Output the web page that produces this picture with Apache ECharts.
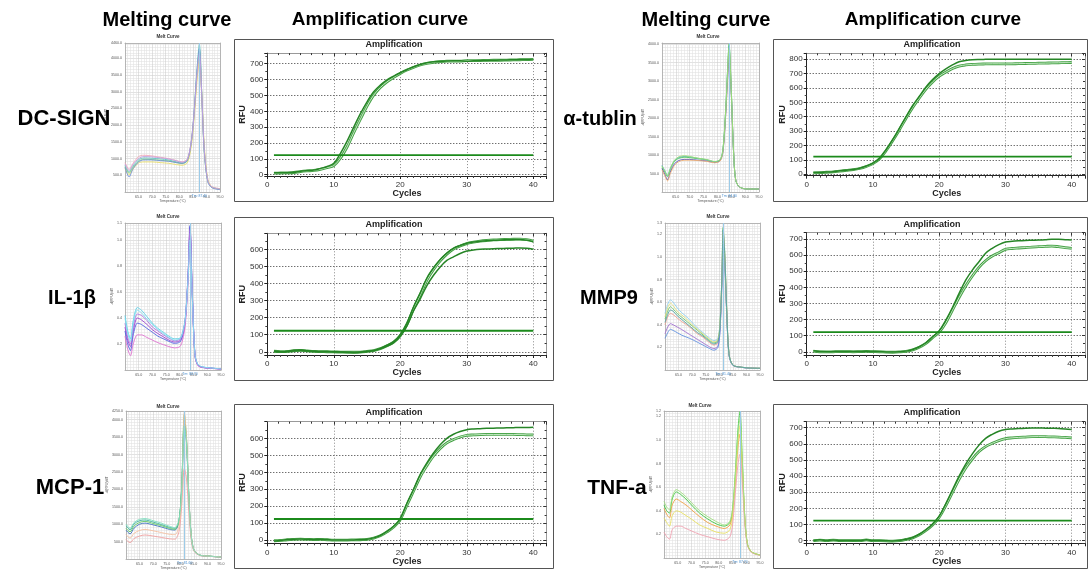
<!DOCTYPE html>
<html><head><meta charset="utf-8">
<script src="https://cdn.jsdelivr.net/npm/echarts@6/dist/echarts.min.js"></script>
<style>html,body{margin:0;padding:0;background:#fff}#c{width:1088px;height:572px}</style>
</head><body><div id="c"></div>
<script>
// ---------------- DATA ----------------
const CYCLES = [1,2,3,4,5,6,7,8,9,10,11,12,13,14,15,16,17,18,19,20,21,22,23,24,25,26,27,28,29,30,31,32,33,34,35,36,37,38,39,40];
const X_TICKS = [0,10,20,30,40];

const DCSIGN_1 = [12,12,13,15,22,26,29,40,52,72,135,212,300,385,460,523,565,598,622,643,662,681,695,706,712,715,717,718,718,716,718,720,721,722,723,724,725,726,727,729];
const DCSIGN_2 = [10,11,12,14,20,24,27,34,45,58,105,175,265,350,433,502,550,586,614,639,660,677,692,702,709,713,716,717,717,720,719,720,721,722,722,723,724,725,726,728];
const DCSIGN_THR = 124;

const IL1B_1 = [4,0,2,9,10,6,3,1,1,0,-1,-3,-4,-2,3,8,20,38,60,100,168,264,345,432,492,540,578,606,622,636,643,648,651,653,655,656,657,658,654,645];
const IL1B_2 = [3,1,2,6,8,5,2,1,0,-1,-2,-3,-3,-2,2,7,18,35,56,95,160,252,333,420,482,532,572,602,620,634,642,648,652,655,657,658,659,660,657,648];
const IL1B_3 = [2,0,1,5,7,4,2,0,0,-1,-2,-3,-4,-3,1,6,17,33,54,92,152,240,310,388,448,497,535,556,576,590,596,600,602,604,605,606,607,608,606,601];
const IL1B_THR = 123;

const MCP1_1 = [-4,-2,4,6,7,6,5,6,4,2,2,1,2,3,6,14,28,52,82,128,218,300,388,456,514,562,600,624,640,651,655,657,659,660,661,662,663,664,664,665];
const MCP1_2 = [-3,-1,3,5,6,5,4,5,3,1,1,1,2,3,5,13,26,49,78,122,207,290,374,439,496,540,573,593,608,618,620,622,623,623,623,623,623,622,621,620];
const MCP1_THR = 125;

const TUB_1 = [12,13,15,18,24,28,33,42,57,77,112,172,242,320,400,478,542,607,658,700,733,760,782,791,796,798,799,800,800,800,800,800,800,800,800,800,800,800,800,800];
const TUB_2 = [10,11,14,17,22,27,32,40,54,74,108,165,235,310,390,465,530,592,642,682,710,735,752,760,764,766,767,768,768,767,768,769,770,771,772,773,774,775,776,777];
const TUB_THR = 122;

const MMP9_1 = [6,1,0,1,2,2,1,2,3,2,1,-1,-2,0,4,14,31,56,93,130,197,275,362,445,507,559,611,642,665,681,686,689,691,692,693,695,698,698,696,694];
const MMP9_2 = [4,0,-1,0,1,1,0,1,2,1,0,-2,-3,-1,3,12,28,52,88,122,180,259,337,408,470,524,565,594,615,636,641,644,647,650,652,654,656,652,646,642];
const MMP9_THR = 122;

const TNF_1 = [0,6,1,5,2,1,2,1,6,1,1,0,-2,1,9,20,40,68,104,152,230,315,400,475,538,592,634,659,678,688,692,695,697,698,698,697,696,695,692,688];
const TNF_2 = [0,4,0,4,1,0,1,0,5,0,0,-1,-3,0,8,18,37,64,98,145,218,300,380,450,506,552,583,603,620,632,637,640,642,644,645,644,643,642,640,637];
const TNF_THR = 124;

// melt curves
const M_DCSIGN_T = [60,61.5,63,65,67,70,73,76,79,81,83,84.5,85.5,86.5,87.4,88.3,89.2,90.5,92,95];
const M_DCSIGN = [
  [800,600,780,960,1020,1010,990,960,900,870,960,1560,2450,3650,4420,2900,1260,330,150,90],
  [760,560,740,920,980,970,950,930,880,850,930,1500,2350,3500,4250,2850,1200,320,140,80],
  [880,680,860,1060,1100,1080,1040,1000,940,900,990,1580,2400,3400,3900,2800,1300,360,160,100],
  [700,520,690,870,900,900,880,860,820,800,880,1420,2250,3300,4000,2950,1400,380,150,90],
  [740,450,700,900,960,960,940,920,880,860,950,1550,2420,3600,4300,2880,1230,310,130,70],
  [840,640,820,1000,1060,1050,1020,990,930,890,980,1540,2380,3500,4150,2880,1280,340,150,90]
];
const M_DCSIGN_TM = 87.4;

const M_IL1B_T = [60,61,62,63,64.5,66,68,70,72,74,76,78,80,81,82,83,83.7,84.5,85.5,86.5,88,91,95];
const M_IL1B = [
  [.33,.23,.18,.30,.40,.385,.35,.31,.28,.255,.23,.215,.225,.27,.39,.74,1.10,.62,.12,.04,.022,.015,.008],
  [.30,.20,.15,.27,.36,.35,.32,.29,.26,.24,.22,.205,.215,.26,.38,.72,1.11,.60,.11,.04,.02,.014,.008],
  [.42,.30,.24,.38,.48,.46,.41,.36,.32,.29,.26,.24,.245,.29,.40,.72,1.05,.60,.12,.045,.025,.016,.009],
  [.26,.16,.11,.20,.27,.27,.25,.23,.21,.195,.18,.17,.18,.23,.35,.68,1.04,.58,.11,.035,.02,.013,.007],
  [.36,.25,.20,.33,.43,.42,.38,.33,.30,.27,.245,.225,.235,.28,.40,.73,1.08,.61,.12,.04,.022,.015,.008],
  [.40,.28,.22,.36,.46,.44,.39,.35,.31,.28,.25,.23,.24,.285,.395,.70,1.00,.58,.12,.045,.025,.016,.009]
];
const M_IL1B_TM = 83.7;

const M_MCP1_T = [60,61.5,63,65,67,70,73,76,78,79.5,80.5,81.5,82.3,83.2,84,85,87,90,95];
const M_MCP1 = [
  [830,720,890,1000,1030,980,920,850,830,1060,1980,3950,3350,1700,690,260,115,85,55],
  [950,840,1010,1100,1120,1060,990,910,880,1100,2000,4000,3400,1720,700,265,118,88,58],
  [880,780,950,1050,1080,1020,960,880,850,1080,2050,4150,3450,1720,700,262,116,86,56],
  [560,470,590,660,690,660,620,580,570,780,1500,2600,2300,1300,560,230,105,80,52],
  [700,600,740,820,850,810,760,710,700,940,1850,4200,3500,1750,710,268,118,88,58],
  [1000,880,1050,1140,1160,1100,1030,940,900,1110,1950,3850,3300,1680,680,258,114,85,55]
];
const M_MCP1_TM = 81.6;

const M_TUB_T = [60,61,62,63,64.5,66,68,70,73,76,79,81,82,83,83.6,84.2,85,85.8,86.6,88,91,95];
const M_TUB = [
  [680,540,420,610,830,910,940,930,900,870,815,870,1140,2230,3180,4000,2760,1130,320,135,80,80],
  [640,480,330,540,760,850,880,880,860,840,800,850,1100,2100,2950,3600,2650,1100,320,130,78,78],
  [600,440,300,500,720,820,860,860,850,830,790,840,1090,2150,3050,3850,2700,1120,325,132,80,80],
  [720,580,450,640,850,930,960,950,910,875,820,875,1150,2250,3200,3950,2740,1125,322,134,80,80],
  [700,560,440,630,860,950,980,960,915,880,825,880,1160,2240,3150,3900,2720,1120,320,133,80,80]
];
const M_TUB_TM = 84.3;

const M_MMP9_T = [60,61,62,63,64.5,66,68,70,72,74,76,78,79.5,80.3,81,81.4,82,82.8,83.6,85,88,91,95];
const M_MMP9 = [
  [.50,.58,.62,.60,.55,.51,.47,.42,.37,.33,.29,.26,.28,.44,.86,1.18,.98,.48,.14,.045,.026,.018,.015],
  [.45,.52,.56,.54,.50,.47,.43,.39,.35,.31,.27,.24,.26,.42,.86,1.26,1.05,.50,.14,.044,.025,.018,.015],
  [.40,.47,.50,.49,.46,.43,.40,.36,.32,.29,.25,.22,.24,.40,.84,1.22,1.02,.49,.14,.043,.025,.018,.015],
  [.32,.38,.41,.40,.38,.36,.33,.30,.27,.24,.21,.19,.21,.37,.80,1.14,.96,.47,.13,.042,.024,.017,.014],
  [.28,.33,.36,.35,.33,.31,.29,.27,.245,.22,.195,.175,.20,.36,.80,1.10,.94,.46,.13,.042,.024,.017,.014],
  [.47,.55,.59,.57,.52,.49,.45,.40,.36,.32,.28,.25,.27,.43,.85,1.20,1.00,.49,.14,.044,.025,.018,.015],
  [.42,.49,.53,.52,.48,.45,.41,.37,.33,.30,.26,.23,.25,.41,.85,1.24,1.03,.49,.14,.043,.025,.018,.015]
];
const M_MMP9_TM = 81.4;

const M_TNF_T = [60,61,62,63,64.5,66,68,70,73,76,79,82,84,85,86,87,87.7,88.5,89.5,90.5,92,95];
const M_TNF = [
  [.45,.40,.38,.50,.56,.54,.50,.45,.38,.33,.29,.27,.30,.41,.72,1.10,1.24,.86,.33,.11,.05,.025],
  [.42,.37,.34,.45,.50,.48,.45,.41,.35,.30,.27,.25,.28,.38,.64,.95,1.05,.78,.31,.11,.05,.025],
  [.34,.30,.27,.36,.40,.39,.36,.33,.28,.25,.22,.21,.24,.35,.66,1.00,1.12,.80,.32,.11,.05,.025],
  [.22,.18,.16,.24,.27,.27,.25,.23,.20,.18,.16,.15,.18,.28,.55,.80,.88,.66,.28,.10,.045,.022],
  [.48,.43,.41,.52,.58,.56,.52,.47,.40,.35,.31,.28,.31,.42,.70,1.06,1.18,.84,.33,.11,.05,.025]
];
const M_TNF_TM = 87.7;

const GENES = ['DC-SIGN','IL-1β','MCP-1','α-tublin','MMP9','TNF-a'];

// ---------------- LAYOUT ----------------
const FONT = 'Liberation Sans, Arial, Helvetica, sans-serif';
const grids=[], xAxes=[], yAxes=[], series=[], graphics=[];

function txt(x,y,text,size,opts){
  opts = opts||{};
  graphics.push({type:'text', x:x, y:y, rotation:opts.rot||0, z:50,
    style:{text:text, font:(opts.bold?'bold ':'')+size+'px '+FONT, fill:opts.color||'#000',
      align:opts.align||'center', verticalAlign:'middle'}});
}

function addAmp(cfg, curves, thr){
  const g = grids.length;
  grids.push({left:cfg.left, top:cfg.top, width:cfg.width, height:cfg.height, containLabel:false});
  const xi = xAxes.length, yi = yAxes.length;
  xAxes.push({gridIndex:g, type:'value', min:0, max:42, interval:10, position:'bottom',
    axisLine:{show:true, onZero:false, lineStyle:{color:'#222', width:1}},
    axisTick:{show:true, inside:false, length:3, lineStyle:{color:'#222'}},
    minorTick:{show:true, splitNumber:10, length:2, lineStyle:{color:'#444'}},
    axisLabel:{fontSize:8, color:'#333', fontFamily:FONT, margin:5,
      formatter:v=>X_TICKS.indexOf(v)>=0?String(v):''},
    splitLine:{show:true, lineStyle:{type:[1,2], color:'#888', width:1}}});
  xAxes.push({gridIndex:g, type:'value', min:0, max:42, interval:10, position:'top',
    axisLine:{show:true, onZero:false, lineStyle:{color:'#999'}},
    axisTick:{show:true, inside:true, length:3, lineStyle:{color:'#333'}},
    minorTick:{show:true, splitNumber:6, length:2, lineStyle:{color:'#333'}},
    axisLabel:{show:false}, splitLine:{show:false}});
  yAxes.push({gridIndex:g, type:'value', min:cfg.ymin, max:cfg.ymax, splitNumber:8, position:'left',
    axisLine:{show:true, onZero:false, lineStyle:{color:'#222'}},
    axisTick:{show:true, length:3, lineStyle:{color:'#222'}},
    minorTick:{show:true, splitNumber:2, length:2, lineStyle:{color:'#444'}},
    axisLabel:{fontSize:8, color:'#333', fontFamily:FONT, margin:4,
      formatter:v=>(v>=0 && v%100===0)?String(v):''},
    splitLine:{show:true, lineStyle:{type:[1,2], color:'#333', width:1}}});
  yAxes.push({gridIndex:g, type:'value', min:cfg.ymin, max:cfg.ymax, splitNumber:8, position:'right',
    axisLine:{show:true, onZero:false, lineStyle:{color:'#999'}},
    axisTick:{show:true, inside:true, length:3, lineStyle:{color:'#333'}},
    minorTick:{show:true, splitNumber:2, length:2, lineStyle:{color:'#333'}},
    axisLabel:{show:false}, splitLine:{show:false}});
  curves.forEach((vals,k)=>{
    const data = CYCLES.map((c,i)=>[c, vals[i]]);
    const base = {type:'line', xAxisIndex:xi, yAxisIndex:yi, data:data, smooth:0.35,
      showSymbol:false, silent:true, animation:false};
    if(k%2===0){
      series.push(Object.assign({}, base, {z:3, lineStyle:{color:'#268526', width:1.5}}));
    } else {
      series.push(Object.assign({}, base, {z:2, lineStyle:{color:'#45a145', width:2.8}}));
      series.push(Object.assign({}, base, {z:2, lineStyle:{color:'#c6eac6', width:1}}));
    }
  });
  series.push({type:'line', xAxisIndex:xi, yAxisIndex:yi, showSymbol:false, silent:true, animation:false,
    data:[[CYCLES[0],thr],[CYCLES[CYCLES.length-1],thr]], z:4, lineStyle:{color:'#1b8a1b', width:1.8}});
  const b = cfg.box;
  graphics.push({type:'rect', shape:{x:b[0]+0.5, y:b[1]+0.5, width:b[2], height:b[3]}, z:1,
    style:{fill:null, stroke:'#555', lineWidth:1}});
  txt(cfg.titleX, cfg.titleY, 'Amplification', 9, {bold:true, color:'#222'});
  txt(cfg.rfuX, cfg.top+cfg.height/2, 'RFU', 9, {bold:true, rot:Math.PI/2, color:'#222'});
  txt(cfg.left+cfg.width/2, cfg.cyclesY, 'Cycles', 9, {bold:true, color:'#222'});
}

function addMelt(cfg, temps, curves, colors, tm){
  const g = grids.length;
  grids.push({left:cfg.left, top:cfg.top, width:cfg.width, height:cfg.height, containLabel:false});
  const xi = xAxes.length, yi = yAxes.length;
  xAxes.push({gridIndex:g, type:'value', min:60, max:95, interval:5,
    axisLine:{show:true, onZero:false, lineStyle:{color:'#aaa', width:0.8}},
    axisTick:{show:false},
    axisLabel:{fontSize:3.6, color:'#555', fontFamily:FONT, margin:3,
      formatter:v=>v===60?'':v.toFixed(1)},
    name:'Temperature (°C)', nameLocation:'middle', nameGap:8,
    nameTextStyle:{fontSize:3.4, color:'#555', fontFamily:FONT},
    splitLine:{show:true, lineStyle:{color:'#cfcfcf', width:0.6}},
    minorTick:{show:false, splitNumber:5},
    minorSplitLine:{show:true, lineStyle:{color:'#e3e3e3', width:0.6}}});
  yAxes.push({gridIndex:g, type:'value', min:0, max:cfg.ymax, interval:cfg.interval,
    axisLine:{show:true, onZero:false, lineStyle:{color:'#aaa', width:0.8}},
    axisTick:{show:false},
    axisLabel:{fontSize:3.6, color:'#555', fontFamily:FONT, margin:3,
      formatter:v=>v===0?'':v.toFixed(1)},
    name:'-d(RFU)/dT', nameLocation:'middle', nameGap:cfg.nameGap,
    nameTextStyle:{fontSize:3.4, color:'#555', fontFamily:FONT},
    splitLine:{show:true, lineStyle:{color:'#cfcfcf', width:0.6}},
    minorTick:{show:false, splitNumber:cfg.minor},
    minorSplitLine:{show:true, lineStyle:{color:'#e3e3e3', width:0.6}}});
  xAxes.push({gridIndex:g, type:'value', min:60, max:95, position:'top',
    axisLine:{show:true, onZero:false, lineStyle:{color:'#aaa', width:0.8}},
    axisTick:{show:false}, axisLabel:{show:false}, splitLine:{show:false}});
  yAxes.push({gridIndex:g, type:'value', min:0, max:cfg.ymax, position:'right',
    axisLine:{show:true, onZero:false, lineStyle:{color:'#aaa', width:0.8}},
    axisTick:{show:false}, axisLabel:{show:false}, splitLine:{show:false}});
  curves.forEach((vals,k)=>{
    const s = {type:'line', xAxisIndex:xi, yAxisIndex:yi, smooth:0.3, showSymbol:false,
      silent:true, animation:false, data:temps.map((t,i)=>[t, vals[i]]),
      lineStyle:{color:colors[k%colors.length], width:0.9}};
    if(k===0){
      s.markLine = {symbol:'none', silent:true, animation:false,
        lineStyle:{color:'#9ccbe8', width:1, type:'solid'},
        label:{show:true, position:'start', formatter:'Tm: '+tm.toFixed(2), fontSize:3.4, color:'#4a8fd0', distance:3},
        data:[{xAxis:tm}]};
    }
    series.push(s);
  });
  txt(cfg.titleX, cfg.titleY, 'Melt Curve', 4.5, {bold:true, color:'#333'});
}

// headers
txt(167,20,'Melting curve',20,{bold:true});
txt(380,20,'Amplification curve',19,{bold:true});
txt(706,20,'Melting curve',20,{bold:true});
txt(933,20,'Amplification curve',19,{bold:true});
// row labels
txt(64,119,GENES[0],22,{bold:true});
txt(72,298,GENES[1],20,{bold:true});
txt(70,488,GENES[2],22,{bold:true});
txt(600,119,GENES[3],20,{bold:true});
txt(609,298,GENES[4],20,{bold:true});
txt(617,488,GENES[5],21,{bold:true});

const A_LEFT=267.3, A_W=279.3, B_LEFT=806.7, B_W=280;
addAmp({left:A_LEFT, top:53.1, width:A_W, height:122.9, ymin:-8, ymax:767, box:[234,39,319,162], titleX:394, titleY:45, rfuX:243, cyclesY:194}, [DCSIGN_1, DCSIGN_2], DCSIGN_THR);
addAmp({left:A_LEFT, top:233.3, width:A_W, height:121.7, ymin:-19, ymax:694, box:[234,217,319,163], titleX:394, titleY:225, rfuX:243, cyclesY:373}, [IL1B_1, IL1B_2, IL1B_3], IL1B_THR);
addAmp({left:A_LEFT, top:421.7, width:A_W, height:121.6, ymin:-18, ymax:698, box:[234,404,319,164], titleX:394, titleY:413, rfuX:243, cyclesY:562}, [MCP1_1, MCP1_2], MCP1_THR);
addAmp({left:B_LEFT, top:53.3, width:B_W, height:122.4, ymin:-10, ymax:841, box:[773,39,314,162], titleX:932, titleY:45, rfuX:783, cyclesY:194}, [TUB_1, TUB_2], TUB_THR);
addAmp({left:B_LEFT, top:232.7, width:B_W, height:122.3, ymin:-20, ymax:739, box:[773,217,314,163], titleX:932, titleY:225, rfuX:783, cyclesY:373}, [MMP9_1, MMP9_2], MMP9_THR);
addAmp({left:B_LEFT, top:421.7, width:B_W, height:121.6, ymin:-16, ymax:737, box:[773,404,314,164], titleX:932, titleY:413, rfuX:783, cyclesY:562}, [TNF_1, TNF_2], TNF_THR);

addMelt({left:125, top:43, width:95, height:149, ymax:4460, interval:500, minor:6, nameGap:11, titleX:168, titleY:37}, M_DCSIGN_T, M_DCSIGN, ['#5fc8c0','#7fd07f','#f0a8b8','#e6dc6a','#7090d8','#c0a0e0'], M_DCSIGN_TM);
addMelt({left:125, top:223, width:96, height:147, ymax:1.13, interval:0.2, minor:9, nameGap:9, titleX:168, titleY:217}, M_IL1B_T, M_IL1B, ['#9a40d0','#5060e0','#60d0e8','#e070d0','#b070e0','#80e0f0'], M_IL1B_TM);
addMelt({left:126, top:411, width:95, height:148, ymax:4250, interval:500, minor:6, nameGap:11, titleX:168, titleY:407}, M_MCP1_T, M_MCP1, ['#4070c0','#40b0a0','#60c860','#f0a0a0','#f5c0a0','#80e0c0'], M_MCP1_TM);
addMelt({left:662, top:43, width:97, height:149, ymax:4030, interval:500, minor:6, nameGap:11, titleX:708, titleY:37}, M_TUB_T, M_TUB, ['#50c850','#5050c0','#f0b070','#50b0c0','#a0e070'], M_TUB_TM);
addMelt({left:665, top:223, width:95, height:147, ymax:1.3, interval:0.2, minor:8, nameGap:9, titleX:718, titleY:217}, M_MMP9_T, M_MMP9, ['#90d0f0','#70c870','#f0a090','#a070d0','#6090e0','#e0e080','#50a0a0'], M_MMP9_TM);
addMelt({left:664, top:411, width:96, height:147, ymax:1.246, interval:0.2, minor:8, nameGap:9, titleX:700, titleY:406}, M_TNF_T, M_TNF, ['#40c840','#f0a040','#e8e060','#f0a0b0','#a0e080'], M_TNF_TM);

const chart = echarts.init(document.getElementById('c'), null, {renderer:'canvas'});
chart.setOption({
  animation:false, backgroundColor:'#fff',
  textStyle:{fontFamily:FONT},
  grid:grids, xAxis:xAxes, yAxis:yAxes, series:series, graphic:graphics
});
</script></body></html>
